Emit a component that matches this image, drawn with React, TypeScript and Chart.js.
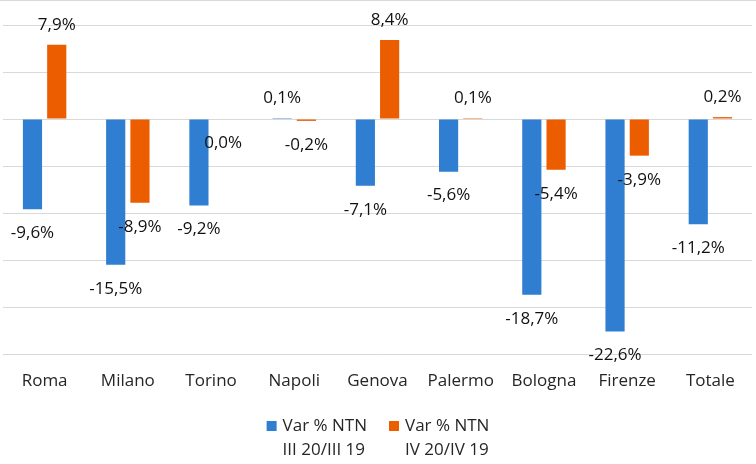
import React, { useEffect, useRef } from "react";
import { Chart, registerables } from "chart.js";

Chart.register(...registerables);

const categories = ["Roma", "Milano", "Torino", "Napoli", "Genova", "Palermo", "Bologna", "Firenze", "Totale"];
const seriesIII = [-9.6, -15.5, -9.2, 0.1, -7.1, -5.6, -18.7, -22.6, -11.2];
const seriesIV = [7.9, -8.9, 0.0, -0.2, 8.4, 0.1, -5.4, -3.9, 0.2];
const legendIII = ["Var % NTN", "III 20/III 19"];
const legendIV = ["Var % NTN", "IV 20/IV 19"];
const yMin = -25;
const yMax = 10;
const yStep = 5;

const BLUE = "#2F7ED1";
const ORANGE = "#EC5D00";
const FONT = "'Open Sans', sans-serif";
const FONT_SIZE = 17;

const fmt = (v: number) => v.toFixed(1).replace(".", ",") + "%";

const labelsPlugin = {
  id: "customLabels",
  beforeDraw(chart: any) {
    const ctx = chart.ctx;
    ctx.save();
    ctx.strokeStyle = "#d9d9d9";
    ctx.lineWidth = 1;
    ctx.beginPath();
    ctx.moveTo(0, 0.5);
    ctx.lineTo(chart.width, 0.5);
    ctx.stroke();
    ctx.restore();
  },
  afterDatasetsDraw(chart: any) {
    const ctx = chart.ctx;
    ctx.save();
    ctx.font = `${FONT_SIZE}px ${FONT}`;
    ctx.fillStyle = "#111";
    ctx.textAlign = "center";
    ctx.textBaseline = "middle";
    chart.data.datasets.forEach((ds: any, di: number) => {
      const meta = chart.getDatasetMeta(di);
      meta.data.forEach((bar: any, i: number) => {
        const v = ds.data[i] as number;
        const y = v > 0 ? bar.y - 20 : bar.y + 24;
        ctx.fillText(fmt(v), bar.x, y);
      });
    });
    ctx.restore();
  },
  afterDraw(chart: any) {
    const ctx = chart.ctx;
    ctx.save();
    ctx.font = `${FONT_SIZE}px ${FONT}`;
    ctx.textBaseline = "middle";
    ctx.textAlign = "left";
    const items = chart.data.datasets.map((ds: any) => {
      const lines: string[] = ds.legendLines;
      const w = Math.max(...lines.map((l) => ctx.measureText(l).width));
      return { lines, w, color: ds.backgroundColor };
    });
    const box = 10;
    const gapText = 6;
    const gapItems = 22;
    const total = items.reduce((s: number, it: any) => s + box + gapText + it.w, 0) + gapItems * (items.length - 1);
    let x = (chart.width - total) / 2;
    const y1 = 426;
    const lh = 24;
    items.forEach((it: any) => {
      ctx.fillStyle = it.color;
      ctx.fillRect(x, y1 - box / 2, box, box);
      ctx.fillStyle = "#262626";
      it.lines.forEach((l: string, k: number) => {
        ctx.fillText(l, x + box + gapText, y1 + k * lh);
      });
      x += box + gapText + it.w + gapItems;
    });
    ctx.restore();
  },
};

export default function App() {
  const ref = useRef<HTMLCanvasElement | null>(null);

  useEffect(() => {
    document.body.style.margin = "0";
    if (!ref.current) return;
    const chart = new Chart(ref.current, {
      type: "bar",
      data: {
        labels: categories,
        datasets: [
          {
            label: legendIII.join(" "),
            legendLines: legendIII,
            data: seriesIII,
            backgroundColor: BLUE,
            categoryPercentage: 0.583,
            barPercentage: 0.79,
          } as any,
          {
            label: legendIV.join(" "),
            legendLines: legendIV,
            data: seriesIV,
            backgroundColor: ORANGE,
            categoryPercentage: 0.583,
            barPercentage: 0.79,
          } as any,
        ],
      },
      options: {
        animation: false,
        responsive: false,
        maintainAspectRatio: false,
        layout: { padding: { top: 25, left: 3, right: 4, bottom: 0 } },
        plugins: {
          legend: { display: false },
          tooltip: { enabled: false },
        },
        scales: {
          y: {
            min: yMin,
            max: yMax,
            ticks: { display: false, stepSize: yStep },
            grid: { color: "#d9d9d9", drawTicks: false, lineWidth: 1 },
            border: { display: false },
            afterFit: (s: any) => {
              s.width = 0;
            },
          },
          x: {
            grid: { display: false, drawTicks: false },
            border: { display: false },
            ticks: {
              color: "#262626",
              font: { family: FONT, size: FONT_SIZE },
              padding: 17,
              maxRotation: 0,
              autoSkip: false,
            },
            afterFit: (s: any) => {
              s.height = 110;
            },
          },
        },
      },
      plugins: [labelsPlugin],
    });
    return () => chart.destroy();
  }, []);

  return (
    <div style={{ width: 756, height: 464 }}>
      <canvas ref={ref} width={756} height={464} style={{ display: "block", width: 756, height: 464 }} />
    </div>
  );
}
